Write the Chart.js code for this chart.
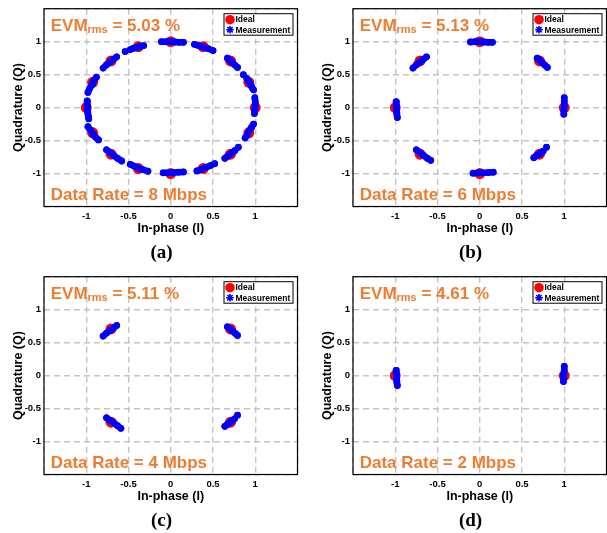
<!DOCTYPE html>
<html>
<head>
<meta charset="utf-8">
<script src="https://cdn.jsdelivr.net/npm/chart.js@4.4.1/dist/chart.umd.min.js"></script>
<style>
  html, body { margin: 0; padding: 0; background: #fff; }
  #fig { position: relative; width: 607px; height: 533px; overflow: hidden; }
  #fig canvas { position: absolute; }
</style>
</head>
<body>
<div id="fig">
  <canvas id="pa" width="303" height="265" style="left:0px;top:0px"></canvas>
  <canvas id="pb" width="303" height="265" style="left:309px;top:0px"></canvas>
  <canvas id="pc" width="303" height="265" style="left:0px;top:268px"></canvas>
  <canvas id="pd" width="303" height="265" style="left:309px;top:268px"></canvas>
</div>
<script>
// panel captions and annotations
const captions = ['(a)', '(b)', '(c)', '(d)'];
const evmValues = [5.03, 5.13, 5.11, 4.61];
const dataRates = [8, 6, 4, 2];
const tickValues = [-1.5, -1, -0.5, 0, 0.5, 1, 1.5];

// ideal constellation points [I, Q]
const idealA = [[1,0],[0.924,0.383],[0.707,0.707],[0.383,0.924],[0,1],[-0.383,0.924],[-0.707,0.707],[-0.924,0.383],
                [-1,0],[-0.924,-0.383],[-0.707,-0.707],[-0.383,-0.924],[0,-1],[0.383,-0.924],[0.707,-0.707],[0.924,-0.383]];
const idealB = [[1,0],[0.707,0.707],[0,1],[-0.707,0.707],[-1,0],[-0.707,-0.707],[0,-1],[0.707,-0.707]];
const idealC = [[0.707,0.707],[-0.707,0.707],[-0.707,-0.707],[0.707,-0.707]];
const idealD = [[1,0],[-1,0]];

const measA = [
  [[0.995,0.15],[1.0,0.09],[1.0,0.03],[0.995,-0.03],[0.99,-0.09]],
  [[0.86,0.50]],
  [[0.90,0.44],[0.92,0.40],[0.945,0.35],[0.96,0.31],[0.98,0.27]],
  [[0.67,0.75],[0.70,0.72],[0.73,0.68],[0.76,0.645],[0.79,0.61]],
  [[0.28,0.96],[0.33,0.94],[0.38,0.92],[0.44,0.895],[0.50,0.865]],
  [[-0.11,1.0],[-0.05,1.0],[0.0,1.0],[0.05,0.995],[0.10,0.99],[0.15,0.99]],
  [[-0.54,0.85]],
  [[-0.48,0.88],[-0.44,0.90],[-0.40,0.91],[-0.36,0.93],[-0.32,0.94]],
  [[-0.80,0.60],[-0.76,0.65],[-0.72,0.69],[-0.68,0.73],[-0.64,0.77]],
  [[-0.98,0.23],[-0.96,0.29],[-0.93,0.35],[-0.91,0.41],[-0.88,0.46]],
  [[-0.99,0.10],[-0.99,0.04],[-0.985,-0.02],[-0.98,-0.08],[-0.975,-0.14],[-0.97,-0.17]],
  [[-0.98,-0.29],[-0.95,-0.34],[-0.92,-0.40],[-0.89,-0.45],[-0.855,-0.49]],
  [[-0.76,-0.64],[-0.72,-0.68],[-0.68,-0.72],[-0.63,-0.77],[-0.58,-0.81]],
  [[-0.48,-0.86],[-0.43,-0.89],[-0.38,-0.92],[-0.33,-0.94],[-0.27,-0.965]],
  [[-0.09,-0.99],[-0.03,-0.99],[0.03,-0.985],[0.09,-0.98],[0.15,-0.975]],
  [[0.31,-0.96],[0.36,-0.94],[0.41,-0.91],[0.47,-0.88],[0.52,-0.85]],
  [[0.64,-0.77],[0.67,-0.74],[0.70,-0.71],[0.73,-0.68],[0.76,-0.65]],
  [[0.80,-0.60]],
  [[0.88,-0.46],[0.905,-0.41],[0.93,-0.35],[0.955,-0.30],[0.98,-0.25]]
];
const measB = [
  [[1.0,0.15],[1.0,0.09],[1.0,0.03],[0.995,-0.04],[0.995,-0.10]],
  [[0.68,0.75],[0.71,0.72],[0.74,0.68],[0.77,0.645],[0.80,0.61]],
  [[-0.11,0.995],[-0.05,1.0],[0.0,1.0],[0.05,0.995],[0.10,0.99],[0.15,0.99]],
  [[-0.79,0.60],[-0.75,0.65],[-0.71,0.69],[-0.67,0.73],[-0.63,0.77]],
  [[-0.99,0.09],[-0.99,0.03],[-0.985,-0.03],[-0.98,-0.09],[-0.975,-0.15]],
  [[-0.75,-0.64],[-0.71,-0.68],[-0.67,-0.72],[-0.62,-0.77],[-0.58,-0.80]],
  [[-0.08,-0.995],[-0.02,-0.99],[0.04,-0.99],[0.10,-0.985],[0.16,-0.98]],
  [[0.64,-0.76],[0.67,-0.73],[0.70,-0.71],[0.73,-0.68],[0.75,-0.66]],
  [[0.79,-0.60]]
];
const measC = [
  [[0.67,0.74],[0.70,0.71],[0.73,0.675],[0.765,0.64],[0.79,0.61]],
  [[-0.80,0.60],[-0.76,0.645],[-0.72,0.685],[-0.68,0.72],[-0.64,0.76]],
  [[-0.76,-0.64],[-0.72,-0.68],[-0.68,-0.71],[-0.63,-0.76],[-0.59,-0.80]],
  [[0.64,-0.77],[0.67,-0.74],[0.70,-0.71],[0.73,-0.68],[0.755,-0.655]],
  [[0.79,-0.60]]
];
const measD = [
  [[-0.99,0.08],[-0.99,0.03],[-0.985,-0.03],[-0.98,-0.09],[-0.975,-0.15]],
  [[1.0,0.14],[1.0,0.08],[0.995,0.02],[0.995,-0.04],[0.99,-0.09]]
];

const ORANGE = '#ED7D31';
const SANS = '"Liberation Sans", Arial, sans-serif';

function toPoints(arr) {
  return arr.map(p => ({ x: p[0], y: p[1] }));
}
// join clusters, break the line between them
function joinClusters(clusters) {
  const out = [];
  clusters.forEach((c, i) => {
    if (i > 0) out.push({ x: null, y: null });
    c.forEach(p => out.push({ x: p[0], y: p[1] }));
  });
  return out;
}

const panelDecor = {
  id: 'panelDecor',
  afterDraw(chart, args, opts) {
    const { ctx, chartArea: a } = chart;
    ctx.save();
    // box frame
    ctx.strokeStyle = '#000';
    ctx.lineWidth = 1.2;
    ctx.strokeRect(a.left, a.top, a.right - a.left, a.bottom - a.top);

    // EVM_rms label
    ctx.fillStyle = ORANGE;
    ctx.textBaseline = 'alphabetic';
    ctx.textAlign = 'left';
    let x = a.left + 6.7;
    const y = a.top + 22;
    ctx.font = 'bold 17px ' + SANS;
    ctx.fillText('EVM', x, y);
    x += ctx.measureText('EVM').width;
    ctx.font = 'bold 11px ' + SANS;
    ctx.fillText('rms', x, y + 2);
    x += ctx.measureText('rms').width;
    ctx.font = 'bold 17px ' + SANS;
    ctx.fillText(' = ' + opts.evm.toFixed(2) + ' %', x, y);
    ctx.fillText('Data Rate = ' + opts.rate + ' Mbps', a.left + 6.7, a.bottom - 6.5);

    // legend box
    const bw = 69, bh = 21.5;
    const bl = a.right - 4.5 - bw, bt = a.top + 5;
    ctx.fillStyle = '#fff';
    ctx.fillRect(bl, bt, bw, bh);
    ctx.strokeStyle = '#000';
    ctx.lineWidth = 1;
    ctx.strokeRect(bl, bt, bw, bh);
    const labels = chart.data.datasets.map(d => d.label);
    ctx.fillStyle = '#ff0000';
    ctx.beginPath();
    ctx.arc(bl + 6, bt + 6, 4.8, 0, Math.PI * 2);
    ctx.fill();
    // asterisk marker
    const mx = bl + 6, my = bt + 16;
    ctx.strokeStyle = '#0000ff';
    ctx.fillStyle = '#0000ff';
    ctx.lineWidth = 1.6;
    ctx.beginPath();
    for (let k = 0; k < 4; k++) {
      const ang = k * Math.PI / 4;
      ctx.moveTo(mx - 3.8 * Math.cos(ang), my - 3.8 * Math.sin(ang));
      ctx.lineTo(mx + 3.8 * Math.cos(ang), my + 3.8 * Math.sin(ang));
    }
    ctx.stroke();
    ctx.beginPath();
    ctx.arc(mx, my, 2.2, 0, Math.PI * 2);
    ctx.fill();
    ctx.fillStyle = '#000';
    ctx.font = 'bold 8.5px ' + SANS;
    ctx.textBaseline = 'middle';
    ctx.fillText(labels[0], bl + 11.5, bt + 6);
    ctx.fillText(labels[1], bl + 11.5, bt + 16.5);

    // panel caption
    ctx.font = 'bold 19px "Liberation Serif", "Times New Roman", serif';
    ctx.textAlign = 'center';
    ctx.textBaseline = 'middle';
    ctx.fillText(opts.caption, 161.5, 253);
    ctx.restore();
  }
};

function axisOptions(isX) {
  return {
    type: 'linear',
    min: -1.5,
    max: 1.5,
    afterBuildTicks: (scale) => { scale.ticks = tickValues.map(v => ({ value: v })); },
    afterFit: (scale) => {
      if (isX) scale.height = 30; else scale.width = 44;
    },
    ticks: {
      color: '#000',
      padding: isX ? 4.5 : 3,
      font: { family: SANS, size: 9.5, weight: 'bold' },
      callback: (v) => (Math.abs(v) > 1.2 ? '' : String(v))
    },
    grid: {
      color: '#c4c4c4',
      lineWidth: 1.4,
      drawTicks: false
    },
    border: { display: false, dash: [6, 4] },
    title: {
      display: true,
      text: isX ? 'In-phase (I)' : 'Quadrature (Q)',
      color: '#000',
      font: { family: SANS, size: 12.5, weight: 'bold' },
      padding: isX ? { top: 0, bottom: 0 } : { top: 10.8, bottom: 0 }
    }
  };
}

const panels = [
  { id: 'pa', ideal: idealA, meas: measA },
  { id: 'pb', ideal: idealB, meas: measB },
  { id: 'pc', ideal: idealC, meas: measC },
  { id: 'pd', ideal: idealD, meas: measD }
];

panels.forEach((p, i) => {
  new Chart(document.getElementById(p.id), {
    type: 'scatter',
    data: {
      datasets: [
        {
          label: 'Ideal',
          data: toPoints(p.ideal),
          backgroundColor: '#ff0000',
          borderColor: '#ff0000',
          pointRadius: 5.5,
          pointBorderWidth: 0,
          order: 2
        },
        {
          label: 'Measurement',
          data: joinClusters(p.meas),
          showLine: true,
          spanGaps: false,
          borderColor: '#0000ff',
          backgroundColor: '#0000ff',
          borderWidth: 6.5,
          borderCapStyle: 'round',
          borderJoinStyle: 'round',
          pointRadius: 3.4,
          pointBorderWidth: 0,
          order: 1
        }
      ]
    },
    options: {
      responsive: false,
      devicePixelRatio: 1,
      animation: false,
      layout: { padding: { left: 0, right: 4, top: 7.5, bottom: 28.5 } },
      scales: { x: axisOptions(true), y: axisOptions(false) },
      plugins: {
        legend: { display: false },
        tooltip: { enabled: false },
        panelDecor: { evm: evmValues[i], rate: dataRates[i], caption: captions[i] }
      }
    },
    plugins: [panelDecor]
  });
});
</script>
</body>
</html>
